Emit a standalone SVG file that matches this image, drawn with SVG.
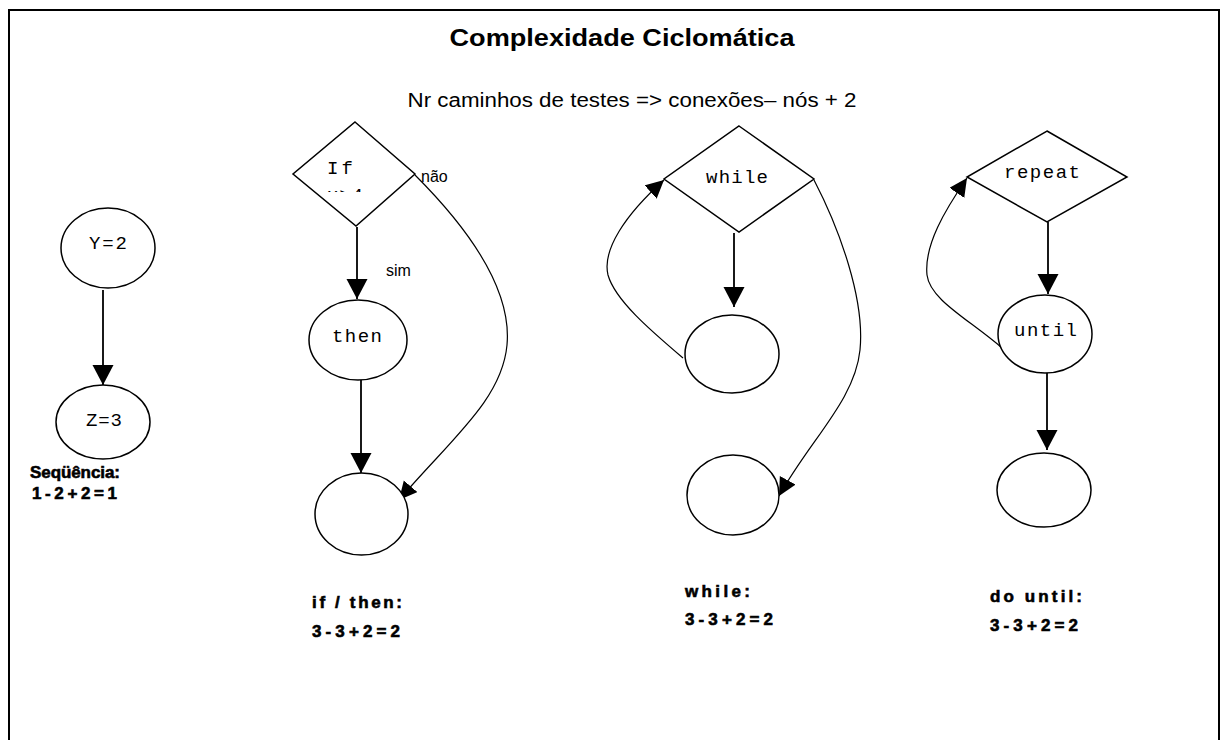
<svg xmlns="http://www.w3.org/2000/svg" width="1229" height="740" viewBox="0 0 1229 740">
<style>
.shape{fill:#fff;stroke:#000;stroke-width:1.5}
.edge{fill:none;stroke:#000;stroke-width:1.8}
.curve{fill:none;stroke:#000;stroke-width:1.2}
.mono{font-family:"Liberation Mono","DejaVu Sans Mono",monospace;font-size:19px;fill:#000}
.lbl{font-family:"Liberation Sans",Arial,sans-serif;font-size:17px;font-weight:bold;fill:#000;stroke:#000;stroke-width:0.6}
.small{font-family:"Liberation Sans",Arial,sans-serif;font-size:16px;fill:#000}
</style>
<defs>
<marker id="ah" markerUnits="userSpaceOnUse" markerWidth="22" markerHeight="22" refX="20" refY="10.5" orient="auto" viewBox="0 0 22 22">
<path d="M0,0 L20,10.5 L0,21 z" fill="#000"/>
</marker>
<marker id="ahs" markerUnits="userSpaceOnUse" markerWidth="20" markerHeight="20" refX="18" refY="9" orient="auto" viewBox="0 0 20 20">
<path d="M0,0 L18,9 L0,18 z" fill="#000"/>
</marker>
<clipPath id="ifclip"><rect x="300" y="150" width="100" height="42"/></clipPath>
</defs>
<rect x="0" y="0" width="1229" height="740" fill="#fff"/>
<rect x="9" y="10" width="1210" height="745" fill="none" stroke="#000" stroke-width="2"/>
<text x="622" y="46" text-anchor="middle" textLength="345" lengthAdjust="spacingAndGlyphs" style="font-family:'Liberation Sans',Arial,sans-serif;font-size:23px;font-weight:bold">Complexidade Ciclomática</text>
<text x="632" y="107" text-anchor="middle" textLength="449" lengthAdjust="spacingAndGlyphs" style="font-family:'Liberation Sans',Arial,sans-serif;font-size:20px">Nr caminhos de testes =&gt; conexões– nós + 2</text>

<g id="connectors">
<line class="edge" x1="103" y1="290" x2="103" y2="385" marker-end="url(#ah)"/>
<line class="edge" x1="357" y1="227" x2="357" y2="299" marker-end="url(#ah)"/>
<line class="edge" x1="361" y1="380" x2="361" y2="473" marker-end="url(#ah)"/>
<path class="curve" d="M415,175 C470,230 512,290 507,345 C502,400 450,440 399,500" marker-end="url(#ahs)"/>
<line class="edge" x1="734" y1="233" x2="734" y2="307" marker-end="url(#ah)"/>
<path class="curve" d="M683,358 C650,330 615,300 608,275 C602,250 625,215 664,180" marker-end="url(#ahs)"/>
<path class="curve" d="M814,180 C840,230 865,300 860,350 C855,400 810,440 779,496" marker-end="url(#ahs)"/>
<line class="edge" x1="1048" y1="222" x2="1048" y2="294" marker-end="url(#ah)"/>
<path class="curve" d="M1002,348 C970,320 930,300 927,275 C924,245 945,210 967,178" marker-end="url(#ahs)"/>
<line class="edge" x1="1047" y1="373" x2="1047" y2="450" marker-end="url(#ah)"/>
<text class="small" x="386" y="276">sim</text>
<text class="small" x="421" y="182">não</text>
</g>

<g id="seq-y">
<ellipse class="shape" cx="108" cy="248" rx="47" ry="40"/>
<text class="mono" x="89" y="249" textLength="38" lengthAdjust="spacing">Y=2</text>
</g>
<g id="seq-z">
<ellipse class="shape" cx="103" cy="422" rx="47" ry="37"/>
<text class="mono" x="86" y="426" textLength="36" lengthAdjust="spacing">Z=3</text>
</g>
<g id="seq-label">
<text class="lbl" x="30" y="478" textLength="90" lengthAdjust="spacing">Seqüência:</text>
<text class="lbl" x="32" y="499" textLength="85" lengthAdjust="spacing">1-2+2=1</text>
</g>

<g id="if-node">
<polygon class="shape" points="355,122 415,174 356,226 293,174"/>
<text class="mono" x="327" y="174" textLength="26" lengthAdjust="spacing">If</text>
<text class="mono" x="327" y="201" textLength="36" lengthAdjust="spacing" clip-path="url(#ifclip)">x&gt;4</text>
</g>
<g id="then-node">
<ellipse class="shape" cx="358" cy="340" rx="49" ry="40"/>
<text class="mono" x="332" y="342" textLength="50" lengthAdjust="spacing">then</text>
</g>
<g id="if-end">
<ellipse class="shape" cx="361.5" cy="514" rx="46.5" ry="41"/>
</g>
<g id="if-label">
<text class="lbl" x="312" y="608" textLength="90" lengthAdjust="spacing">if / then:</text>
<text class="lbl" x="312" y="637" textLength="88" lengthAdjust="spacing">3-3+2=2</text>
</g>

<g id="while-node">
<polygon class="shape" points="739,126 814,179 739,232 664,179"/>
<text class="mono" x="706" y="183" textLength="62" lengthAdjust="spacing">while</text>
</g>
<g id="while-body">
<ellipse class="shape" cx="732" cy="354" rx="47" ry="39"/>
</g>
<g id="while-end">
<ellipse class="shape" cx="733" cy="495" rx="46" ry="40"/>
</g>
<g id="while-label">
<text class="lbl" x="685" y="597" textLength="65" lengthAdjust="spacing">while:</text>
<text class="lbl" x="685" y="625" textLength="88" lengthAdjust="spacing">3-3+2=2</text>
</g>

<g id="repeat-node">
<polygon class="shape" points="1047,131 1127,177 1047,222 967,177"/>
<text class="mono" x="1004" y="178" textLength="76" lengthAdjust="spacing">repeat</text>
</g>
<g id="until-node">
<ellipse class="shape" cx="1045" cy="334" rx="47" ry="39"/>
<text class="mono" x="1014" y="336" textLength="63" lengthAdjust="spacing">until</text>
</g>
<g id="until-end">
<ellipse class="shape" cx="1044" cy="490" rx="47" ry="37"/>
</g>
<g id="until-label">
<text class="lbl" x="990" y="602" textLength="92" lengthAdjust="spacing">do until:</text>
<text class="lbl" x="990" y="631" textLength="88" lengthAdjust="spacing">3-3+2=2</text>
</g>
</svg>
